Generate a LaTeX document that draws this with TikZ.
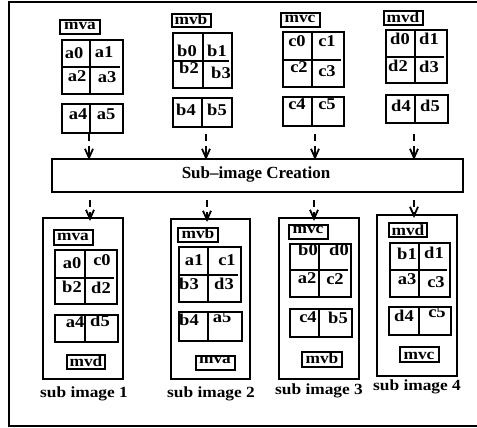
\documentclass[tikz,border=0pt]{standalone}
\usepackage{fontspec}
\usepackage{graphicx}
\setmainfont{Liberation Serif}
\usetikzlibrary{arrows.meta}
\newcommand{\sx}[1]{\scalebox{1.12}[1]{#1}}
\newcommand{\bx}[5]{\node[box, minimum width={(#4-#2)*1pt}, minimum height={(#5-#3)*1pt}] (#1) at ({(#2+#4)/2},{(#3+#5)/2}) {};}
% grid: name x1 y1 x2 y2 xdiv ydiv
\newcommand{\gridbox}[7]{\bx{#1}{#2}{#3}{#4}{#5}\draw[ln] (#6,#3) -- (#6,#5); \draw[ln] (#2,#7) -- ({#4-3},#7);}
% row: name x1 y1 x2 y2 xdiv
\newcommand{\rowbox}[6]{\bx{#1}{#2}{#3}{#4}{#5}\draw[ln] (#6,#3) -- (#6,#5);}
\tikzset{
  ln/.style={line width=1.8pt},
  box/.style={draw, line width=1.8pt, inner sep=0pt, outer sep=0pt},
  cell/.style={anchor=base, inner sep=0pt, font=\fontsize{16.5}{16}\selectfont\bfseries},
  lbl/.style={anchor=base, inner sep=0pt, font=\fontsize{15.5}{15}\selectfont\bfseries},
  capt/.style={anchor=base, inner sep=0pt, font=\fontsize{15.5}{15}\selectfont\bfseries},
  darr/.style={line width=1.8pt, dash pattern=on 7pt off 5pt on 40pt, -{Straight Barb[length=9pt,width=8pt,line width=1.8pt]}}
}
\begin{document}
\begin{tikzpicture}[x=1pt,y=-1pt]
\clip (0,0) rectangle (477,428);
\draw[line width=2pt] (9,2) rectangle (490,425.5);

% ---- top group A
\bx{la}{60}{20}{100}{34}\node[lbl] (tla) at (80,30) {\sx{mva}};
\gridbox{ga}{62}{40}{123}{94}{90}{67}
\node[cell] (ta0) at (74,59) {\sx{a0}};
\node[cell] (ta1) at (104,58) {\sx{a1}};
\node[cell] (ta2) at (77,82) {\sx{a2}};
\node[cell] (ta3) at (107,83) {\sx{a3}};
\rowbox{ra}{62}{104}{123}{133}{90}
\node[cell] (ta4) at (78,120) {\sx{a4}};
\node[cell] (ta5) at (106,120) {\sx{a5}};

% ---- top group B
\bx{lb}{172}{14}{211}{27}\node[lbl] (tlb) at (191,25) {\sx{mvb}};
\gridbox{gb}{173}{33}{232}{88}{203}{61}
\node[cell] (tb0) at (187,57) {\sx{b0}};
\node[cell] (tb1) at (217,57) {\sx{b1}};
\node[cell] (tb2) at (189,74) {\sx{b2}};
\node[cell] (tb3) at (221,79) {\sx{b3}};
\rowbox{rb}{173}{98}{232}{127}{202}
\node[cell] (tb4) at (186,115) {\sx{b4}};
\node[cell] (tb5) at (217,115) {\sx{b5}};

% ---- top group C
\bx{lc}{281}{13}{320}{27}\node[lbl] (tlc) at (300,23) {\sx{mvc}};
\gridbox{gc}{283}{32}{344}{87}{312}{60}
\node[cell] (tc0) at (297,47) {\sx{c0}};
\node[cell] (tc1) at (327,47) {\sx{c1}};
\node[cell] (tc2) at (299,73) {\sx{c2}};
\node[cell] (tc3) at (327,77) {\sx{c3}};
\rowbox{rc}{283}{97}{344}{126}{312}
\node[cell] (tc4) at (297,110) {\sx{c4}};
\node[cell] (tc5) at (327,110) {\sx{c5}};

% ---- top group D
\bx{ld}{384}{11}{423}{25}\node[lbl] (tld) at (403,23) {\sx{mvd}};
\gridbox{gd}{386}{30}{447}{83}{415}{57}
\node[cell] (td0) at (400,45) {\sx{d0}};
\node[cell] (td1) at (429,45) {\sx{d1}};
\node[cell] (td2) at (398,72) {\sx{d2}};
\node[cell] (td3) at (429,73) {\sx{d3}};
\rowbox{rd}{386}{95}{448}{123}{415}
\node[cell] (td4) at (401,112) {\sx{d4}};
\node[cell] (td5) at (430,112) {\sx{d5}};

% ---- main box
\bx{main}{52}{159}{463}{192}
\node[anchor=base, inner sep=0pt, font=\fontsize{17}{17}\selectfont\bfseries] (title) at (256,178) {Sub\textendash image Creation};

% ---- sub image boxes
\bx{si1}{43}{218}{123}{379}
\bx{si2}{171}{219}{250}{379}
\bx{si3}{279}{218}{359}{379}
\bx{si4}{377}{215}{457}{376}

% ---- arrows top
\coordinate (sa) at (89,134);
\coordinate (sb) at (206,134);
\coordinate (sc) at (315,134);
\coordinate (sd) at (414,134);
\foreach \c in {sa,sb,sc,sd} \draw[darr] (\c) -- ([yshift=-1pt]\c |- main.north);
% ---- arrows bottom
\coordinate (e1) at (90,200);
\coordinate (e2) at (207,200);
\coordinate (e3) at (314,200);
\coordinate (e4) at (414,200);
\draw[darr] (e1) -- ([yshift=-3pt]e1 |- si1.north);
\draw[darr] (e2) -- ([yshift=-3pt]e2 |- si2.north);
\draw[darr] (e3) -- ([yshift=-3pt]e3 |- si3.north);
\draw[darr] (e4) -- ([yshift=-3pt]e4 |- si4.north);

% ---- sub image 1
\bx{l1a}{54}{230}{93}{245}\node[lbl] (t1a) at (73,240) {\sx{mva}};
\gridbox{g1}{55}{250}{117}{304}{85}{278}
\node[cell] (s1a) at (72,268) {\sx{a0}};
\node[cell] (s1b) at (102,265) {\sx{c0}};
\node[cell] (s1c) at (72,292) {\sx{b2}};
\node[cell] (s1d) at (101,293) {\sx{d2}};
\rowbox{r1}{55}{315}{118}{342}{85}
\node[cell] (s1e) at (75,327) {\sx{a4}};
\node[cell] (s1f) at (100,326) {\sx{d5}};
\bx{l1b}{67}{355}{105}{369}\node[lbl] (t1b) at (86,366) {\sx{mvd}};
\node[capt] (c1) at (84,397) {\sx{sub image 1}};

% ---- sub image 2
\bx{l2a}{178}{228}{218}{242}\node[lbl] (t2a) at (198,238) {\sx{mvb}};
\gridbox{g2}{179}{247}{241}{302}{208}{275}
\node[cell] (s2a) at (194,265) {\sx{a1}};
\node[cell] (s2b) at (227,265) {\sx{c1}};
\node[cell] (s2c) at (189,289) {\sx{b3}};
\node[cell] (s2d) at (224,289) {\sx{d3}};
\rowbox{r2}{179}{312}{242}{341}{208}
\node[cell] (s2e) at (189,325) {\sx{b4}};
\node[cell] (s2f) at (222,322) {\sx{a5}};
\bx{l2b}{196}{356}{235}{370}\node[lbl] (t2b) at (215,363) {\sx{mva}};
\node[capt] (c2) at (211,397) {\sx{sub image 2}};

% ---- sub image 3
\bx{l3a}{289}{225}{328}{239}\node[lbl] (t3a) at (308,233) {\sx{mvc}};
\gridbox{g3}{290}{244}{351}{297}{319}{270}
\node[cell] (s3a) at (308,255) {\sx{b0}};
\node[cell] (s3b) at (339,255) {\sx{d0}};
\node[cell] (s3c) at (307,283) {\sx{a2}};
\node[cell] (s3d) at (335,284) {\sx{c2}};
\rowbox{r3}{290}{309}{352}{337}{319}
\node[cell] (s3e) at (308,322) {\sx{c4}};
\node[cell] (s3f) at (338,323) {\sx{b5}};
\bx{l3b}{302}{352}{342}{367}\node[lbl] (t3b) at (322,363) {\sx{mvb}};
\node[capt] (c3) at (319,394) {\sx{sub image 3}};

% ---- sub image 4
\bx{l4a}{389}{223}{427}{237}\node[lbl] (t4a) at (408,235) {\sx{mvd}};
\gridbox{g4}{390}{243}{450}{297}{419}{270}
\node[cell] (s4a) at (407,259) {\sx{b1}};
\node[cell] (s4b) at (434,258) {\sx{d1}};
\node[cell] (s4c) at (407,284) {\sx{a3}};
\node[cell] (s4d) at (436,287) {\sx{c3}};
\rowbox{r4}{389}{307}{451}{335}{419}
\node[cell] (s4e) at (404,321) {\sx{d4}};
\node[cell] (s4f) at (437,317) {\sx{c5}};
\bx{l4b}{400}{347}{439}{362}\node[lbl] (t4b) at (419,359) {\sx{mvc}};
\node[capt] (c4) at (417,390) {\sx{sub image 4}};
\end{tikzpicture}
\end{document}
